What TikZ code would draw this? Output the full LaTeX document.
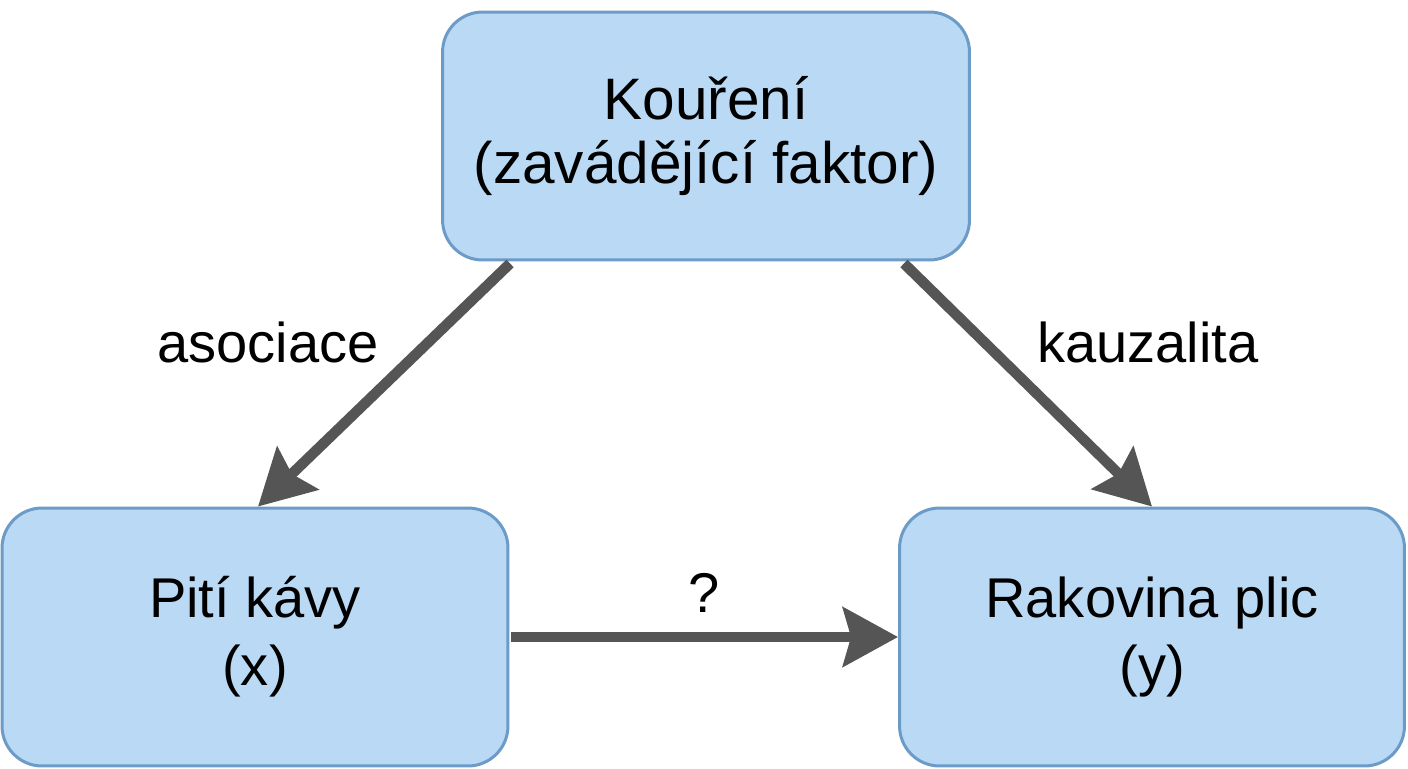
\documentclass[tikz,border=0pt]{standalone}
\usepackage{fontspec}
\setmainfont{Liberation Sans}
\usetikzlibrary{arrows.meta}

\definecolor{boxfill}{HTML}{B9D9F5}
\definecolor{boxline}{HTML}{6B9BC6}
\definecolor{arrowgray}{HTML}{555555}

\tikzset{
  box/.style={draw=boxline, line width=0.06cm, fill=boxfill, rounded corners=0.8cm,
    align=center, font=\fontsize{31.9}{38.7}\selectfont},
  conn/.style={draw=arrowgray, line width=0.21cm,
    -{Stealth[length=1.1cm, width=1.18cm, inset=0.16cm]}},
  lbl/.style={font=\fontsize{31.9}{38.7}\selectfont}
}

\begin{document}
\begin{tikzpicture}[x=0.02cm, y=-0.02cm]
\useasboundingbox (0,0) rectangle (1408,768);

% Boxes
\node[box, minimum width=10.54cm, minimum height=4.96cm, font=\fontsize{33.3}{36.5}\selectfont] (smoke) at (706,136) {Kouření\\(zavádějící faktor)};
\node[box, minimum width=10.12cm, minimum height=5.16cm] (coffee) at (255,637) {Pití kávy\\(x)};
\node[box, minimum width=10.1cm, minimum height=5.16cm] (cancer) at (1152,637) {Rakovina plic\\(y)};

% Arrows
\draw[conn] ([xshift=1.38cm, yshift=-0.04cm]smoke.south west) -- ([xshift=0.06cm]coffee.north);
\draw[conn] ([xshift=-1.34cm, yshift=-0.04cm]smoke.south east) -- (cancer.north);
\draw[conn] ([xshift=0.04cm]coffee.east) -- (cancer.west);

% Labels
\node[lbl] (assoc) at (268,342) {asociace};
\node[lbl] (causal) at (1148,342) {kauzalita};
\node[lbl] (quest) at (704,593) {?};
\end{tikzpicture}
\end{document}
